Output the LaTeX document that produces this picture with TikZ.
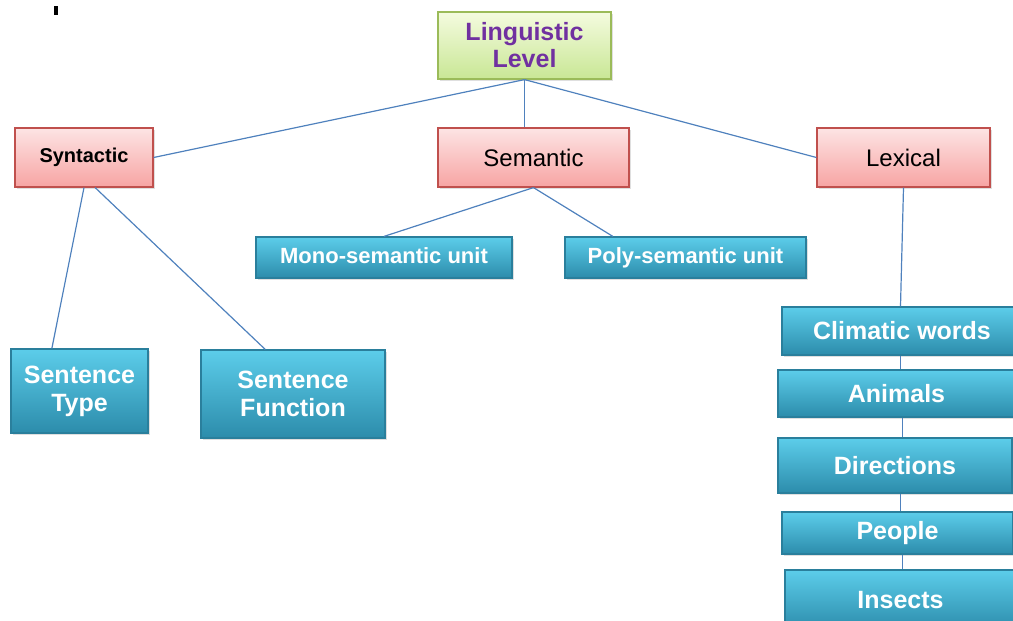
\documentclass[tikz,border=0pt]{standalone}
\usepackage{fontspec}
\setmainfont{Liberation Sans}
\usepackage{tikz}
\usetikzlibrary{calc,shadows}
\definecolor{linkblue}{HTML}{4F81BD}
\definecolor{tealtop}{HTML}{5CCDEA}
\definecolor{tealbot}{HTML}{2C8CAB}
\definecolor{tealline}{HTML}{2A7F9C}
\definecolor{pinktop}{HTML}{FDE4E4}
\definecolor{pinkbot}{HTML}{F7A4A3}
\definecolor{pinkline}{HTML}{C0504D}
\definecolor{greentop}{HTML}{F4FBDF}
\definecolor{greenbot}{HTML}{C9E795}
\definecolor{greenline}{HTML}{9BBB59}
\definecolor{levelpurple}{HTML}{7030A0}

\begin{document}
\begin{tikzpicture}[x=0.5pt,y=-0.5pt,
	box/.style={rectangle, inner sep=0pt, line width=0.6pt, align=center,
		drop shadow={opacity=0.25, shadow xshift=1pt, shadow yshift=-1pt}},
	top node/.style={box, draw=greenline, top color=greentop, bottom color=greenbot,
		text=levelpurple, font=\fontsize{12.5}{13.5}\selectfont\bfseries},
	level node/.style={box, draw=pinkline, top color=pinktop, bottom color=pinkbot,
		font=\fontsize{12}{14}\selectfont},
	leaf node/.style={box, draw=tealline, top color=tealtop, bottom color=tealbot,
		text=white, font=\fontsize{12.5}{14}\selectfont\bfseries},
	unit node/.style={leaf node, font=\fontsize{11}{13}\selectfont\bfseries,
		text height=1.6ex, text depth=0.5ex},
	link/.style={draw=linkblue, line width=0.6pt}]
	
	\clip (0,0) rectangle (1013,621);
	\useasboundingbox (0,0) rectangle (1013,621);
	\fill (54,6) rectangle (58,15);
	
	% Nodes
	\node[top node, minimum width=86.5pt, minimum height=33.5pt] (ll) at (524.5,45.5) {Linguistic\\Level};
	
	\node[level node, minimum width=69pt, minimum height=29.5pt, font=\fontsize{10}{12}\selectfont\bfseries] (syn) at (84,157.5) {Syntactic};
	\node[level node, minimum width=95.5pt, minimum height=29.5pt] (sem) at (533.5,157.5) {Semantic};
	\node[level node, minimum width=86.5pt, minimum height=29.5pt] (lex) at (903.5,157.5) {Lexical};
	
	\node[unit node, minimum width=128pt, minimum height=20.5pt] (mono) at (384,257.5) {Mono-semantic unit};
	\node[unit node, minimum width=120.5pt, minimum height=20.5pt] (poly) at (685.5,257.5) {Poly-semantic unit};
	
	\node[leaf node, minimum width=68.5pt, minimum height=42pt] (st) at (79.5,391) {Sentence\\Type};
	\node[leaf node, minimum width=92pt, minimum height=44pt] (sf) at (293,394) {Sentence\\Function};
	
	\node[leaf node, minimum width=120pt, minimum height=24pt] (clim) at (902,331) {Climatic words};
	\node[leaf node, minimum width=118.5pt, minimum height=23.5pt] (anim) at (896.5,393.5) {Animals};
	\node[leaf node, minimum width=117pt, minimum height=27.5pt] (dir) at (895,465.5) {Directions};
	\node[leaf node, minimum width=115.5pt, minimum height=21pt] (peop) at (897.5,533) {People};
	\node[leaf node, minimum width=115.5pt, minimum height=30pt] (ins) at (900.5,600) {Insects};
	
	% Links
	\path[link]
	(ll.south)
	edge (syn.east)
	edge (ll.south |- sem.north)
	edge (lex.west)
	
	(syn.south)
	edge ($(st.north west)!0.3!(st.north east)$)
	($(syn.south west)!0.58!(syn.south east)$)
	edge ($(sf.north west)!0.35!(sf.north east)$)
	
	(sem.south)
	edge (mono.north)
	edge ($(poly.north west)!0.2!(poly.north east)$)
	
	(lex.south) edge ([xshift=-1.5pt]clim.north -| lex.south)
	([xshift=-1.5pt]clim.south -| lex.south) edge ([xshift=-1.5pt]anim.north -| lex.south)
	([xshift=-0.5pt]anim.south -| lex.south) edge ([xshift=-0.5pt]dir.north -| lex.south)
	([xshift=-1.5pt]dir.south -| lex.south) edge ([xshift=-1.5pt]peop.north -| lex.south)
	([xshift=-0.5pt]peop.south -| lex.south) edge ([xshift=-0.5pt]ins.north -| lex.south);
	
\end{tikzpicture}
\end{document}
